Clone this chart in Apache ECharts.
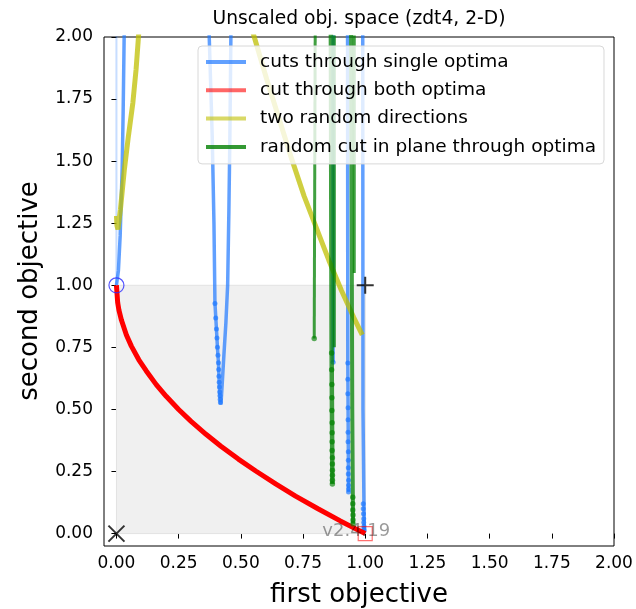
<!DOCTYPE html>
<html><head><meta charset="utf-8">
<script src="https://cdn.jsdelivr.net/npm/echarts@6/dist/echarts.min.js"></script>
<style>html,body{margin:0;padding:0;background:#fff}#c{width:636px;height:609px}</style>
</head><body><div id="c"></div>
<script>
// ---- tick labels ----
const xTicks = [0, 0.25, 0.5, 0.75, 1.0, 1.25, 1.5, 1.75, 2.0];
const yTicks = [0, 0.25, 0.5, 0.75, 1.0, 1.25, 1.5, 1.75, 2.0];

// ---- cuts through single optima (blue) ----
const cutSingleFaint = [[0, 1.0], [0, 1.3], [0, 1.6], [0, 1.9], [0, 2.05]];
const cutSingleA = [[0, 1.0], [0.008, 1.06], [0.015, 1.2], [0.023, 1.47], [0.027, 1.7], [0.031, 2.0], [0.032, 2.05]];
const cutSingleV = [[0.371, 2.05], [0.373, 2.0], [0.385, 1.6], [0.392, 1.25], [0.396, 0.927], [0.402, 0.824],
  [0.406, 0.75], [0.41, 0.688], [0.413, 0.61], [0.416, 0.555], [0.419, 0.52], [0.421, 0.535], [0.425, 0.6],
  [0.432, 0.72], [0.44, 0.85], [0.447, 1.0], [0.452, 1.3], [0.456, 1.6], [0.46, 2.0], [0.461, 2.05]];
const cutSingleB = [[0.871, 2.05], [0.871, 0.69]];
const cutSingleC = [[0.929, 2.05], [0.93, 0.687], [0.933, 0.167]];
const cutSingleD = [[0.99, 2.05], [0.991, 0.5], [0.996, 0.012]];
const cutSingleDots = [[0.396, 0.927], [0.399, 0.868], [0.402, 0.824], [0.404, 0.788], [0.406, 0.75], [0.408, 0.718],
  [0.41, 0.688], [0.411, 0.661], [0.412, 0.634], [0.413, 0.61], [0.414, 0.59], [0.415, 0.57], [0.416, 0.555],
  [0.417, 0.54], [0.418, 0.528], [0.871, 0.69],
  [0.93, 0.687], [0.93, 0.622], [0.93, 0.563], [0.931, 0.507], [0.931, 0.458], [0.931, 0.408], [0.931, 0.37],
  [0.932, 0.33], [0.932, 0.295], [0.932, 0.265], [0.932, 0.24], [0.933, 0.215], [0.933, 0.195], [0.933, 0.18], [0.933, 0.167],
  [0.992, 0.12], [0.992, 0.1], [0.993, 0.08], [0.994, 0.06], [0.994, 0.045], [0.995, 0.03], [0.995, 0.02], [0.996, 0.012]];

// ---- cut through both optima (red) ----
const cutBoth = [[0, 1.0], [0.005, 0.93], [0.01, 0.9], [0.02, 0.86], [0.04, 0.8], [0.06, 0.755], [0.09, 0.7],
  [0.12, 0.655], [0.16, 0.6], [0.2, 0.553], [0.25, 0.5], [0.3, 0.452], [0.36, 0.4], [0.42, 0.352], [0.49, 0.3],
  [0.56, 0.252], [0.64, 0.2], [0.72, 0.151], [0.81, 0.1], [0.9, 0.051], [0.96, 0.02], [1.0, 0.0]];

// ---- two random directions (yellow) ----
const randDirA = [[0.0, 1.28], [0.002, 1.24], [0.006, 1.225], [0.016, 1.305], [0.032, 1.467], [0.048, 1.6],
  [0.066, 1.735], [0.079, 1.87], [0.09, 2.02]];
const randDirB = [[0.545, 2.03], [0.554, 2.0], [0.604, 1.83], [0.654, 1.67], [0.704, 1.51], [0.754, 1.36],
  [0.804, 1.23], [0.854, 1.1], [0.904, 0.98], [0.954, 0.87], [0.988, 0.8]];

// ---- random cut in plane through optima (green) ----
const planeA = [[0.799, 2.05], [0.795, 0.786]];
const planeB = [[0.862, 2.05], [0.865, 0.727], [0.868, 0.2]];
const planeC = [[0.876, 2.05], [0.876, 0.75]];
const planeD = [[0.943, 2.05], [0.948, 0.5], [0.951, 0.04]];
const planeE = [[0.956, 2.05], [0.956, 1.05]];
const planeDots = [[0.795, 0.786],
  [0.865, 0.727], [0.865, 0.66], [0.866, 0.6], [0.866, 0.547], [0.866, 0.496], [0.867, 0.446], [0.867, 0.406],
  [0.867, 0.37], [0.867, 0.335], [0.868, 0.305], [0.868, 0.28], [0.868, 0.255], [0.868, 0.235], [0.868, 0.215], [0.868, 0.2],
  [0.95, 0.146], [0.95, 0.12], [0.95, 0.095], [0.951, 0.075], [0.951, 0.055], [0.951, 0.04]];

// ---- special markers ----
const optimumA = [[0, 1]];
const optimumB = [[1, 0]];
const refPoint = [[1, 1]];
const idealPoint = [[0, 0]];
const versionPos = [[0.964, 0.01]];
const versionText = 'v2.4.19';
const boxArea = [[0, 0], [1, 1]];

const BLUE = 'rgba(30,120,255,0.7)', BLUE_DOT = 'rgba(30,120,255,0.85)';
const RED = 'rgb(255,0,0)';
const YEL = 'rgba(191,191,0,0.75)';
const GRN = 'rgba(0,128,0,0.75)';
const FONT = 'DejaVu Sans';

function line(name, data, color, width, z) {
  return { type: 'line', name, data, showSymbol: false, symbol: 'none', lineStyle: { color, width },
    itemStyle: { color }, z: z || 2, animation: false, silent: true };
}

const chart = echarts.init(document.getElementById('c'), null, { renderer: 'canvas' });
const S1 = 'cuts through single optima', S2 = 'cut through both optima', S3 = 'two random directions', S4 = 'random cut in plane through optima';
chart.setOption({
  animation: false,
  backgroundColor: '#fff',
  grid: { left: 104, right: 22, top: 37, bottom: 63, show: true, borderColor: '#000', borderWidth: 1, backgroundColor: '#fff' },
  xAxis: { type: 'value', min: -0.05, max: 2.0,
    axisLine: { show: false }, splitLine: { show: false },
    axisTick: { show: true, inside: false, length: 5, lineStyle: { color: '#000', width: 1 }, customValues: xTicks },
    axisLabel: { customValues: xTicks, formatter: v => v.toFixed(2), color: '#000', fontSize: 17, fontFamily: FONT, margin: 9 } },
  yAxis: { type: 'value', min: -0.05, max: 2.0,
    axisLine: { show: false }, splitLine: { show: false },
    axisTick: { show: true, inside: false, length: 5, lineStyle: { color: '#000', width: 1 }, customValues: yTicks },
    axisLabel: { customValues: yTicks, formatter: v => v.toFixed(2), color: '#000', fontSize: 17, fontFamily: FONT, margin: 11 } },
  legend: {
    orient: 'vertical', left: 198, top: 46, padding: [6, 8, 7, 8], itemGap: 8.3,
    itemWidth: 40, itemHeight: 4, icon: 'rect',
    backgroundColor: 'rgba(255,255,255,0.8)', borderColor: '#d8d8d8', borderWidth: 1, borderRadius: 4,
    textStyle: { fontSize: 18.5, fontFamily: FONT, color: '#000', lineHeight: 20, padding: [0, 0, 0, 9] },
    data: [
      { name: S1, itemStyle: { color: 'rgba(30,120,255,0.7)' } },
      { name: S2, itemStyle: { color: 'rgba(255,0,0,0.6)' } },
      { name: S3, itemStyle: { color: 'rgba(191,191,0,0.6)' } },
      { name: S4, itemStyle: { color: 'rgba(0,128,0,0.8)' } }
    ],
    selectedMode: false, z: 20
  },
  graphic: [
    { type: 'text', x: 359, y: 19, style: { text: 'Unscaled obj. space (zdt4, 2-D)', font: '18.7px "DejaVu Sans"', fill: '#000', textAlign: 'center', textVerticalAlign: 'middle' } },
    { type: 'text', x: 359, y: 595, style: { text: 'first objective', font: '26px "DejaVu Sans"', fill: '#000', textAlign: 'center', textVerticalAlign: 'middle' } },
    { type: 'text', x: 30, y: 291, rotation: Math.PI / 2, style: { text: 'second objective', font: '26px "DejaVu Sans"', fill: '#000', textAlign: 'center', textVerticalAlign: 'middle' } }
  ],
  series: [
    { type: 'line', name: 'box', data: [], silent: true, z: 1,
      markArea: { silent: true, itemStyle: { color: '#f0f0f0', borderColor: '#e2e2e2', borderWidth: 1 },
        data: [[{ coord: boxArea[0] }, { coord: boxArea[1] }]] } },
    line(S1, cutSingleFaint, 'rgba(30,120,255,0.25)', 2),
    line(S1, cutSingleA, BLUE, 3.5),
    line(S1, cutSingleV, BLUE, 3.5),
    line(S1, cutSingleB, BLUE, 3.5),
    line(S1, cutSingleC, BLUE, 3.5),
    line(S1, cutSingleD, BLUE, 3.5),
    { type: 'scatter', name: S1, data: cutSingleDots, symbolSize: 5, itemStyle: { color: BLUE_DOT }, z: 3, silent: true },
    line(S2, cutBoth, RED, 5, 4),
    line(S3, randDirA, YEL, 5, 5),
    line(S3, randDirB, YEL, 5, 5),
    line(S4, planeA, GRN, 3, 6),
    line(S4, planeB, GRN, 4.5, 6),
    line(S4, planeC, GRN, 3, 6),
    line(S4, planeD, GRN, 4, 6),
    line(S4, planeE, GRN, 3, 6),
    { type: 'scatter', name: S4, data: planeDots, symbolSize: 5.5, itemStyle: { color: 'rgba(0,128,0,0.8)' }, z: 6, silent: true },
    { type: 'scatter', name: 'optA', data: optimumA, symbol: 'circle', symbolSize: 15,
      itemStyle: { color: 'rgba(0,0,0,0)', borderColor: '#2a2aff', borderWidth: 1.2 }, z: 8, silent: true },
    { type: 'scatter', name: 'optB', data: optimumB, symbol: 'rect', symbolSize: 14,
      itemStyle: { color: 'rgba(0,0,0,0)', borderColor: 'rgba(255,0,0,0.7)', borderWidth: 1.2 }, z: 8, silent: true },
    { type: 'scatter', name: 'ref', data: refPoint, symbol: 'path://M0,5L10,5M5,0L5,10', symbolSize: 17,
      itemStyle: { color: 'rgba(0,0,0,0)', borderColor: '#000', borderWidth: 2 }, z: 8, silent: true },
    { type: 'scatter', name: 'ideal', data: idealPoint, symbol: 'path://M0,0L10,10M10,0L0,10', symbolSize: 16,
      itemStyle: { color: 'rgba(0,0,0,0)', borderColor: '#000', borderWidth: 2 }, z: 8, silent: true },
    { type: 'scatter', name: 'ver', data: versionPos, symbolSize: 1, itemStyle: { color: 'rgba(0,0,0,0)' }, z: 9, silent: true,
      label: { show: true, position: 'inside', formatter: versionText, color: 'rgba(0,0,0,0.5)', fontSize: 18, fontFamily: FONT } }
  ]
});
</script></body></html>
